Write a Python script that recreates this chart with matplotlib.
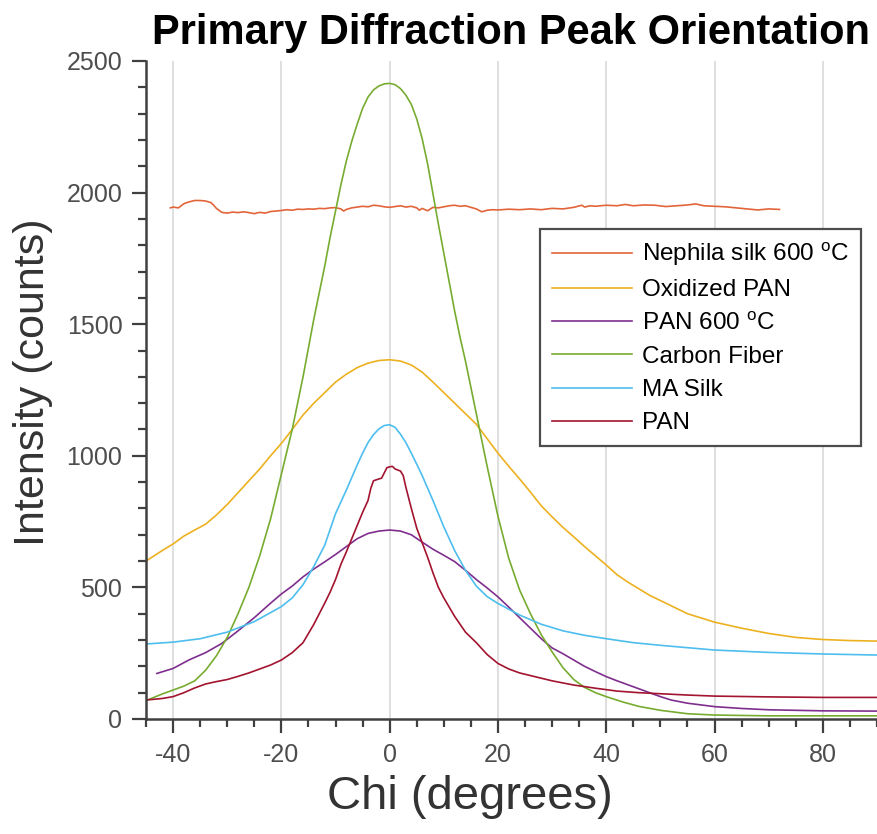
import matplotlib
matplotlib.use('Agg')
from matplotlib import pyplot as plt
from matplotlib.ticker import MultipleLocator

plt.rcParams['font.family'] = ['Liberation Sans', 'DejaVu Sans']
plt.rcParams['mathtext.fontset'] = 'custom'
plt.rcParams['mathtext.rm'] = 'Liberation Sans'
plt.rcParams['mathtext.it'] = 'Liberation Sans'
plt.rcParams['axes.unicode_minus'] = False

# Nephila silk 600 C
neph_chi = [-40.5, -40, -39, -38, -37, -36, -35, -34, -33, -32.5, -32, -31, -30, -29, -28, -27, -26, -25,
            -24, -23, -22, -21, -20, -19, -18, -17, -16, -15, -14, -13, -12, -11, -10, -9, -8.5, -8, -7,
            -6, -5, -4, -3, -2, -1, 0, 1, 2, 3, 4, 5, 5.5, 6, 7, 8, 9, 10, 11, 12, 13, 14, 15, 16, 17,
            18, 19, 20, 22, 24, 26, 28, 30, 32, 34, 35.5, 36, 37, 38, 40, 42, 43.5, 45, 47, 49, 51, 53,
            55, 56.5, 58, 60, 62, 64, 66, 68, 70, 72]
neph_int = [1942, 1945, 1942, 1958, 1965, 1970, 1970, 1968, 1962, 1952, 1940, 1925, 1922, 1926, 1924, 1927,
            1924, 1920, 1925, 1922, 1928, 1930, 1932, 1935, 1933, 1937, 1936, 1938, 1937, 1940, 1939, 1942,
            1943, 1938, 1930, 1936, 1942, 1945, 1948, 1946, 1952, 1950, 1946, 1944, 1947, 1950, 1945, 1948,
            1942, 1933, 1940, 1931, 1944, 1942, 1946, 1950, 1952, 1948, 1950, 1944, 1938, 1927, 1933, 1935,
            1934, 1937, 1935, 1938, 1935, 1940, 1938, 1944, 1952, 1945, 1950, 1948, 1952, 1950, 1955, 1950,
            1953, 1952, 1947, 1950, 1953, 1957, 1950, 1948, 1946, 1942, 1938, 1934, 1938, 1936]

# Oxidized PAN
opan_chi = [-45, -42, -40, -38, -36, -34, -32, -30, -28, -26, -24, -22, -20, -18, -16, -14, -12, -10, -8,
            -6, -4, -2, 0, 2, 4, 6, 8, 10, 12, 14, 16, 18, 20, 22, 24, 26, 28, 30, 32, 34, 36, 38, 40,
            42, 44, 46, 48, 50, 55, 60, 65, 70, 75, 80, 85, 90]
opan_int = [600, 640, 665, 695, 718, 740, 775, 815, 860, 905, 950, 1000, 1047, 1100, 1155, 1200, 1240,
            1280, 1310, 1335, 1352, 1362, 1365, 1360, 1345, 1318, 1280, 1240, 1200, 1160, 1120, 1065,
            1010, 960, 912, 862, 810, 768, 728, 692, 655, 620, 585, 548, 520, 495, 470, 450, 400, 368,
            345, 325, 310, 302, 298, 296]

# PAN 600 C
p600_chi = [-43, -40, -37, -34, -31, -28, -25, -22, -20, -18, -16, -14, -12, -10, -8, -6, -4, -2, 0,
            2, 4, 6, 8, 10, 12, 14, 16, 18, 20, 22, 24, 26, 28, 30, 32, 34, 36, 38, 40, 42, 44, 46,
            48, 50, 52, 55, 60, 65, 70, 80, 90]
p600_int = [173, 192, 225, 252, 287, 335, 385, 440, 475, 505, 540, 570, 597, 625, 655, 685, 705, 714,
            718, 714, 700, 672, 645, 622, 598, 565, 530, 498, 464, 425, 385, 345, 305, 270, 248, 224,
            200, 180, 161, 145, 130, 115, 100, 85, 72, 60, 47, 40, 35, 31, 30]

# Carbon Fiber
cf_chi = [-45, -42, -40, -38, -36, -34, -32, -30, -28, -26, -24, -22, -20, -18, -16, -14, -13, -12, -11,
          -10, -9, -8, -7, -6, -5, -4, -3, -2, -1, 0, 1, 2, 3, 4, 5, 6, 7, 8, 9, 10, 11, 12, 13, 14,
          16, 18, 20, 22, 24, 26, 28, 30, 32, 34, 36, 38, 40, 43, 46, 50, 55, 60, 70, 80, 90]
cf_int = [70, 95, 110, 125, 145, 185, 240, 310, 400, 500, 620, 760, 930, 1100, 1300, 1520, 1620, 1720,
          1830, 1930, 2030, 2120, 2195, 2260, 2320, 2363, 2390, 2405, 2413, 2415, 2410, 2395, 2370,
          2335, 2280, 2205, 2110, 1995, 1880, 1770, 1660, 1550, 1450, 1360, 1160, 960, 770, 610, 490,
          400, 320, 255, 195, 150, 120, 100, 85, 65, 48, 33, 20, 15, 12, 12, 12]

# MA Silk
ma_chi = [-45, -40, -35, -30, -25, -20, -18, -16, -14, -12, -10, -8, -6, -5, -4, -3, -2, -1, 0, 1, 2,
          3, 4, 5, 6, 8, 10, 12, 14, 16, 18, 20, 24, 28, 32, 36, 40, 45, 50, 60, 70, 80, 90]
ma_int = [285, 292, 305, 330, 370, 427, 460, 510, 580, 660, 780, 870, 965, 1010, 1050, 1080, 1102,
          1115, 1118, 1108, 1082, 1050, 1010, 968, 925, 830, 730, 640, 565, 505, 465, 439, 395, 360,
          335, 318, 305, 290, 280, 262, 253, 247, 243]

# PAN
pan_chi = [-45, -42, -40, -38, -36, -34, -32, -30, -28, -26, -24, -22, -20, -18, -16, -14, -13, -12,
           -11, -10, -9, -8, -7, -6, -5, -4, -3.5, -3, -2, -1.5, -1, -0.5, 0, 0.5, 1, 1.5, 2, 2.5, 3,
           4, 5, 6, 7, 8, 9, 10, 11, 12, 14, 16, 18, 20, 22, 24, 26, 28, 30, 34, 38, 42, 46, 50, 55,
           60, 70, 80, 90]
pan_int = [72, 78, 85, 100, 118, 133, 142, 150, 162, 175, 190, 205, 224, 252, 290, 360, 400, 440, 482,
           530, 588, 635, 685, 735, 785, 830, 875, 905, 912, 915, 935, 955, 958, 960, 950, 946, 942,
           925, 880, 800, 725, 670, 615, 555, 500, 460, 425, 390, 330, 290, 245, 211, 190, 175, 165,
           155, 145, 129, 117, 106, 100, 96, 91, 87, 84, 82, 82]

fig = plt.figure(figsize=(8.77, 8.34), dpi=100)
ax = fig.add_axes([146/877, 115/834, 731/877, 658/834])

ax.plot(neph_chi, neph_int, color='#E2653A', lw=1.2, label=r'Nephila silk 600 $^{\rm o}$C')
ax.plot(opan_chi, opan_int, color='#EDB120', lw=1.2, label='Oxidized PAN')
ax.plot(p600_chi, p600_int, color='#7E2F8E', lw=1.2, label=r'PAN 600 $^{\rm o}$C')
ax.plot(cf_chi, cf_int, color='#77AC30', lw=1.2, label='Carbon Fiber')
ax.plot(ma_chi, ma_int, color='#4DBEEE', lw=1.2, label='MA Silk')
ax.plot(pan_chi, pan_int, color='#A2142F', lw=1.2, label='PAN')

ax.set_xlim(-45, 90)
ax.set_ylim(0, 2500)
ax.xaxis.set_major_locator(MultipleLocator(20))
ax.xaxis.set_minor_locator(MultipleLocator(5))
ax.yaxis.set_major_locator(MultipleLocator(500))
ax.yaxis.set_minor_locator(MultipleLocator(100))

ax.spines['top'].set_visible(False)
ax.spines['right'].set_visible(False)
for s in ['left', 'bottom']:
    ax.spines[s].set_color('#404040')
    ax.spines[s].set_linewidth(1.8)

ax.tick_params(which='major', direction='out', length=10, width=1.6, color='#404040',
               labelsize=18, labelcolor='#4D4D4D', pad=7)
ax.tick_params(which='minor', direction='out', length=6, width=1.6, color='#404040')

ax.set_axisbelow(True)
ax.xaxis.grid(True, which='major', color='#DCDCDC', lw=1.3)

ax.set_title('Primary Diffraction Peak Orientation', fontsize=30, fontweight='bold', pad=12)
fig.text(33/877, 1 - 382/834, 'Intensity (counts)', rotation=90, ha='center', va='center',
         fontsize=31, color='#333333')
fig.text(470/877, 1 - 797/834, 'Chi (degrees)', ha='center', va='center', fontsize=34, color='#333333')

leg = ax.legend(loc='upper left', bbox_to_anchor=(0.539, 0.745), borderaxespad=0, fontsize=17.5,
                handlelength=3.3, handletextpad=0.4, labelspacing=0.46, fancybox=False,
                framealpha=1, borderpad=0.5)
leg.get_frame().set_edgecolor('#4D4D4D')
leg.get_frame().set_linewidth(1.6)

plt.savefig('out.png', dpi=100)
